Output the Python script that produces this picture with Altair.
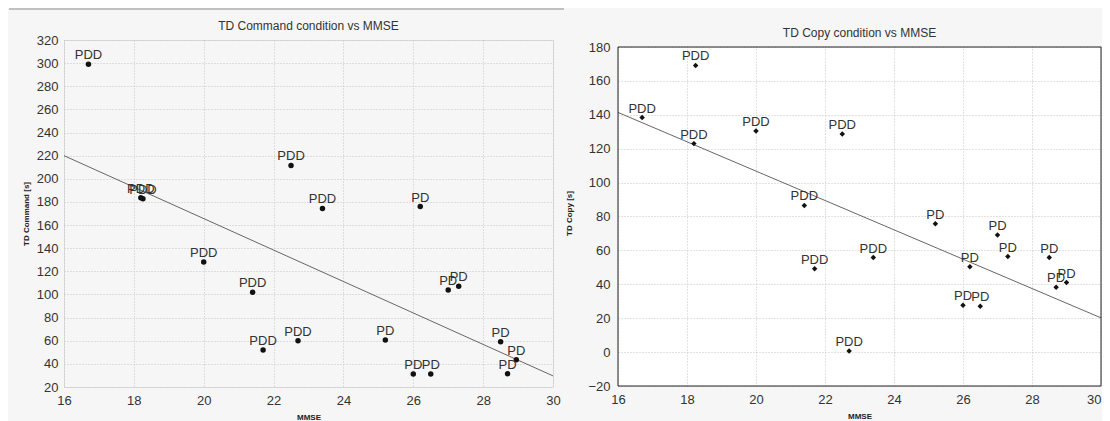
import altair as alt
import pandas as pd

# ---- data ----
cmd_group = ["PDD"] * 9 + ["PD"] * 9
cmd_mmse = [16.7, 18.2, 18.26, 20.0, 21.4, 21.7, 22.5, 22.7, 23.4,
            25.2, 26.0, 26.2, 26.5, 27.0, 27.3, 28.5, 28.7, 28.95]
cmd_td = [299, 183.6, 182.7, 128, 102, 52, 211.5, 60, 174.4,
          60.6, 31.3, 176, 31.3, 103.8, 107.2, 59.1, 31.5, 43.5]

copy_group = ["PDD"] * 9 + ["PD"] * 9
copy_mmse = [16.7, 18.2, 18.25, 20.0, 21.4, 21.7, 22.5, 22.7, 23.4,
             25.2, 26.0, 26.2, 26.5, 27.0, 27.3, 28.5, 28.7, 29.0]
copy_td = [138.4, 123.0, 169.1, 130.4, 86.5, 49.2, 128.7, 0.6, 55.8,
           75.7, 27.6, 50.4, 27.0, 69.1, 56.4, 55.8, 38.3, 41.0]

fit_x = [16, 30]
cmd_fit_y = [220, 29.6]
copy_fit_y = [141.4, 20.2]

x_ticks = [16, 18, 20, 22, 24, 26, 28, 30]
cmd_ticks = list(range(20, 321, 20))
copy_ticks = list(range(-20, 181, 20))

FONT = "Liberation Sans"
BG = "#f6f6f6"
one = pd.DataFrame({"k": [0]})


def axis(values, title, label_pad, title_pad, **kw):
    return alt.Axis(values=values, title=title, labelFontSize=13, labelColor="#333",
                    labelFont=FONT, labelPadding=label_pad, tickSize=0, domain=False,
                    gridColor="#c4c4c4", gridDash=[1, 2], titleFont=FONT,
                    titleFontSize=8, titleFontWeight="bold", titleColor="#222",
                    titlePadding=title_pad, labelFlush=False, labelOverlap=False, **kw)


def base_layers(mmse, td, group, fx, fy, ydom, yticks, ytitle, shape, ylp, ytp, xkw):
    df = pd.DataFrame({"MMSE": mmse, "TD": td, "Group": group})
    fit = pd.DataFrame({"MMSE": fx, "TD": fy})
    xa = axis(x_ticks, "MMSE", 7, 6, **xkw)
    ya = axis(yticks, ytitle, ylp, ytp)
    xenc = alt.X("MMSE:Q", scale=alt.Scale(domain=[16, 30], nice=False, zero=False), axis=xa)
    yenc = alt.Y("TD:Q", scale=alt.Scale(domain=ydom, nice=False, zero=False), axis=ya)
    line = alt.Chart(fit).mark_line(color="#666", strokeWidth=1, clip=True).encode(x=xenc, y=yenc)
    pts = alt.Chart(df).mark_point(shape=shape, filled=True, color="#111", size=30,
                                   opacity=1).encode(x=xenc, y=yenc)
    txt = alt.Chart(df).mark_text(font=FONT, fontSize=13, color="#333", dy=-5,
                                  baseline="alphabetic", align="center").encode(
        x=xenc, y=yenc, text="Group:N")
    return [line, pts, txt]


def title_mark(text, w, y):
    return alt.Chart(one).mark_text(font=FONT, fontSize=12, color="#333",
                                    baseline="middle", align="center").encode(
        x=alt.value(w / 2), y=alt.value(y), text=alt.value(text))


# left panel: plot 489 x 347
LW, LH = 489, 347
left_layers = base_layers(cmd_mmse, cmd_td, cmd_group, fit_x, cmd_fit_y, [20, 320],
                          cmd_ticks, "TD Command [s]", "circle", 6, 6, {})
sep = alt.Chart(one).mark_rule(color="#8a8a8a", strokeWidth=1).encode(
    x=alt.value(-55), x2=alt.value(500), y=alt.value(-31))
left = alt.layer(*left_layers, sep,
                 title_mark("TD Command condition vs MMSE", LW, -14)).properties(
    width=LW, height=LH)

# right panel: frame 483 x 339, placed 7 px lower than the left frame
RW, RH, ROFF = 483, 339, 7
r_top = 180 + ROFF * 200 / RH
right_layers = base_layers(
    copy_mmse, copy_td, copy_group, fit_x, copy_fit_y, [-20, r_top], copy_ticks,
    "TD Copy [s]", "diamond", 8, 14,
    {"labelAlign": {"condition": {"test": "datum.value >= 30", "value": "right"},
                    "value": "center"}})
strip = alt.Chart(one).mark_rect(color=BG).encode(
    x=alt.value(-1), x2=alt.value(RW + 1), y=alt.value(-1), y2=alt.value(ROFF - 0.5))
frame = alt.Chart(one).mark_rect(fillOpacity=0, stroke="#222", strokeWidth=1).encode(
    x=alt.value(0), x2=alt.value(RW), y=alt.value(ROFF), y2=alt.value(RH + ROFF))
right = alt.layer(*right_layers, strip, frame,
                  title_mark("TD Copy condition vs MMSE", RW, -7)).properties(
    width=RW, height=RH + ROFF,
    view=alt.ViewBackground(stroke="transparent", strokeWidth=0, fill="white"))

chart = alt.hconcat(left, right, spacing=0).configure_view(
    stroke="#222", strokeWidth=1, fill="white"
).configure_axis(labelOverlap=False).configure(
    background=BG, padding={"left": 0, "top": 0, "right": 0, "bottom": 0})

chart.save("out.html", embed_options={"renderer": "svg", "actions": False})
